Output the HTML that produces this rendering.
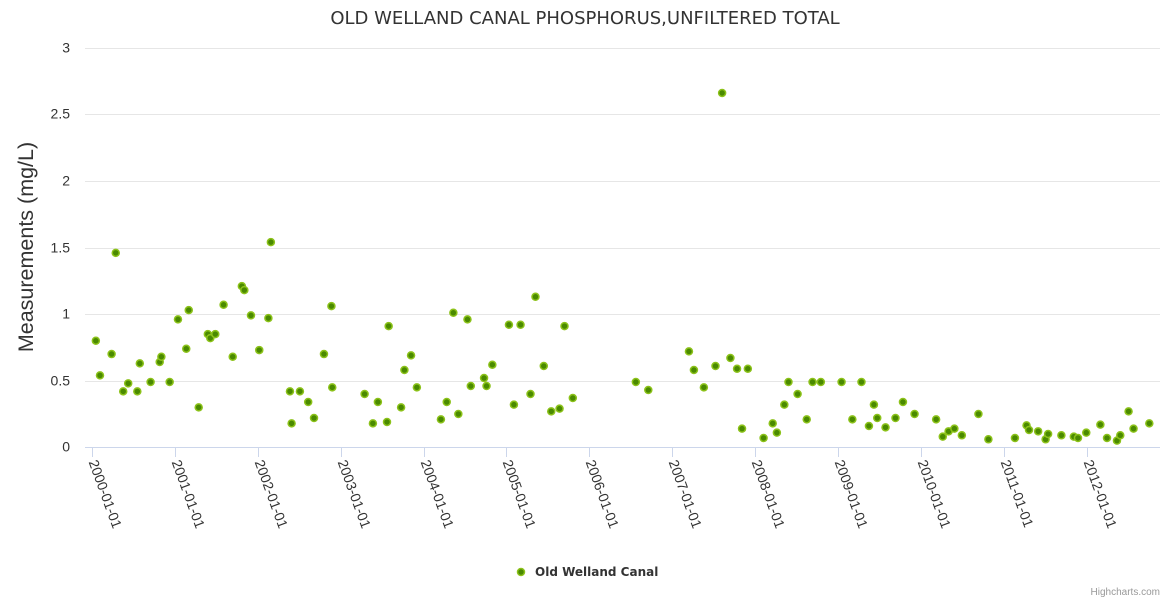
<!DOCTYPE html>
<html><head><meta charset="utf-8"><style>
body{margin:0;background:#fff;font-family:"Liberation Sans",sans-serif}
svg{display:block}
</style></head><body>
<svg id="chart" width="1170" height="600">
<text x="585" y="24" text-anchor="middle" font-size="18" fill="#333" font-family="DejaVu Sans, sans-serif">OLD WELLAND CANAL PHOSPHORUS,UNFILTERED TOTAL</text>
<text transform="translate(33,247) rotate(-90)" text-anchor="middle" font-size="21.5" fill="#333">Measurements (mg/L)</text>
<g id="grid"></g><g id="xaxis"></g><g id="yaxis"></g><g id="points"></g>
<g>
<circle cx="521" cy="572" r="3.5" fill="#4a8a00" stroke="#8cc21a" stroke-width="1.5"/>
<text x="535" y="576" font-size="12" font-weight="bold" fill="#333" font-family="DejaVu Sans, sans-serif">Old Welland Canal</text>
</g>
<text x="1160" y="595" text-anchor="end" font-size="10" fill="#999">Highcharts.com</text>
</svg>
<script>
const years=[2000.05,2000.10,2000.24,2000.29,2000.38,2000.44,2000.55,2000.58,2000.71,2000.82,2000.84,2000.94,2001.04,2001.14,2001.17,2001.29,2001.40,2001.43,2001.49,2001.59,2001.70,2001.81,2001.84,2001.92,2002.02,2002.13,2002.16,2002.39,2002.41,2002.51,2002.61,2002.68,2002.80,2002.89,2002.90,2003.29,2003.39,2003.45,2003.56,2003.58,2003.73,2003.77,2003.85,2003.92,2004.21,2004.28,2004.36,2004.42,2004.53,2004.57,2004.73,2004.76,2004.83,2005.03,2005.09,2005.17,2005.29,2005.35,2005.45,2005.54,2005.64,2005.70,2005.80,2006.56,2006.71,2007.20,2007.26,2007.38,2007.52,2007.60,2007.70,2007.78,2007.84,2007.91,2008.10,2008.21,2008.26,2008.35,2008.40,2008.51,2008.62,2008.69,2008.79,2009.04,2009.17,2009.28,2009.37,2009.43,2009.47,2009.57,2009.69,2009.78,2009.92,2010.18,2010.26,2010.33,2010.40,2010.49,2010.69,2010.81,2011.13,2011.27,2011.30,2011.41,2011.50,2011.53,2011.69,2011.84,2011.89,2011.99,2012.16,2012.24,2012.36,2012.40,2012.50,2012.56,2012.75];
const values=[0.80,0.54,0.70,1.46,0.42,0.48,0.42,0.63,0.49,0.64,0.68,0.49,0.96,0.74,1.03,0.30,0.85,0.82,0.85,1.07,0.68,1.21,1.18,0.99,0.73,0.97,1.54,0.42,0.18,0.42,0.34,0.22,0.70,1.06,0.45,0.40,0.18,0.34,0.19,0.91,0.30,0.58,0.69,0.45,0.21,0.34,1.01,0.25,0.96,0.46,0.52,0.46,0.62,0.92,0.32,0.92,0.40,1.13,0.61,0.27,0.29,0.91,0.37,0.49,0.43,0.72,0.58,0.45,0.61,2.66,0.67,0.59,0.14,0.59,0.07,0.18,0.11,0.32,0.49,0.40,0.21,0.49,0.49,0.49,0.21,0.49,0.16,0.32,0.22,0.15,0.22,0.34,0.25,0.21,0.08,0.12,0.14,0.09,0.25,0.06,0.07,0.165,0.13,0.12,0.06,0.10,0.09,0.08,0.07,0.11,0.17,0.07,0.05,0.09,0.27,0.14,0.18];
const yTicks=[0,0.5,1,1.5,2,2.5,3];
const xTickYears=[2000,2001,2002,2003,2004,2005,2006,2007,2008,2009,2010,2011,2012];
const NS="http://www.w3.org/2000/svg";
const xS=y=>91.7+(y-2000)*82.95;
const yS=v=>447.3-v*133.2;
function mk(tag,attrs,parent){const e=document.createElementNS(NS,tag);for(const k in attrs)e.setAttribute(k,attrs[k]);parent.appendChild(e);return e;}
const grid=document.getElementById('grid'),ya=document.getElementById('yaxis'),xa=document.getElementById('xaxis'),pts=document.getElementById('points');
yTicks.forEach(t=>{
  const y=Math.round(yS(t))+0.5;
  const l=mk('line',{x1:85,x2:1160,y1:y,y2:y,stroke:t===0?'#ccd6eb':'#e6e6e6','stroke-width':1},grid);
  
  
  const tx=mk('text',{x:70,y:y+4,'text-anchor':'end','font-size':14,fill:'#333'},ya);
  tx.textContent=String(t);
  
  
});
xTickYears.forEach(yr=>{
  const x=Math.round(xS(yr))+0.5;
  const l=mk('line',{x1:x,x2:x,y1:447,y2:457,stroke:'#ccd6eb'},xa);
  
  
  const tx=mk('text',{transform:`translate(${x-4},462) rotate(70)`,'font-size':14,fill:'#333'},xa);
  tx.textContent=yr+'-01-01';
  
  
});
years.forEach((yr,i)=>{
  const c=mk('circle',{cx:xS(yr),cy:yS(values[i]),r:3.5,fill:'#4a8a00',stroke:'#8cc21a','stroke-width':1.5},pts);
  
  
});
</script>
</body></html>
